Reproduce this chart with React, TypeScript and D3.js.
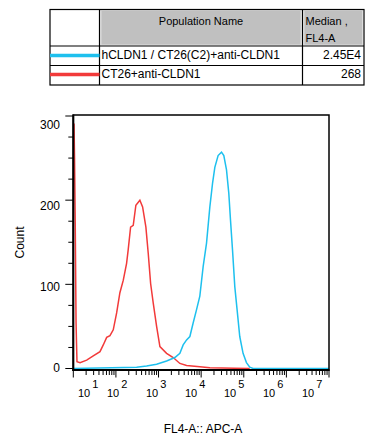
import * as d3 from 'd3';

// FL4-A intensity (linear units) and event counts
const redX = [10.4, 10.7, 11.1, 11.6, 11.9, 12.2, 14.4, 20.6, 29.4, 42.3, 50.5, 60.7, 72.5, 86.6, 104, 124, 149, 178, 194, 221, 255, 294, 365, 423, 505, 573, 652, 750, 901, 1077, 1545, 2208, 3169, 4550, 9330, 16000, 60000, 138000];
const redCount = [291, 250, 173, 55, 30, 8, 7, 10, 15, 20, 28, 37, 39, 46, 66, 90, 105, 125, 141, 168, 170, 194, 200, 192, 168, 137, 101, 78, 50, 26, 18, 13, 6, 3.5, 2, 1, 0.3, 0];

const cyanX = [10, 306, 525, 901, 1545, 2417, 3169, 3785, 4550, 5436, 6490, 7800, 9310, 11140, 13370, 16000, 18500, 20940, 25000, 30060, 34040, 39360, 44570, 48870, 54440, 61660, 69700, 80540, 96290, 115600, 138300, 165200, 1e7];
const cyanCount = [0, 1.5, 3, 5, 9, 13, 18, 28, 34, 38, 54, 70, 86, 121, 149, 192, 220, 239, 253, 257, 253, 236, 208, 176, 141, 97, 70, 38, 18, 7, 1.5, 0, 0];

const populations = ['hCLDN1 / CT26(C2)+anti-CLDN1', 'CT26+anti-CLDN1'];
const medians = ['2.45E4', '268'];
const popColors = ['#1ec0ee', '#f23a3a'];

const decades = [1, 2, 3, 4, 5, 6, 7];
const yMajor = [0, 100, 200, 300];

const FONT = 'Liberation Sans, Arial, sans-serif';

export default function App() {
  const x = d3.scaleLog().domain([10, 1e7]).range([73.3, 329]);
  const y = d3.scaleLinear().domain([0, 300]).range([368.5, 116]);
  // tick labels in the export sit off their ticks
  const xLabel = d3.scaleLinear().domain([1, 2, 7]).range([78, 107, 302]);
  const yLabel = d3.scaleLinear().domain([0, 300]).range([371.5, 129]);

  const line = d3.line<[number, number]>()
    .x(d => x(d[0]))
    .y(d => y(d[1]));

  const redPts = redX.map((v, i) => [v, redCount[i]] as [number, number]);
  const cyanPts = cyanX.map((v, i) => [v, cyanCount[i]] as [number, number]);

  const minor: number[] = [];
  for (let k = 1; k < 7; k++) for (let m = 2; m < 10; m++) minor.push(m * Math.pow(10, k));
  const yMinor = d3.range(0, 301, 25).filter(v => v % 100 !== 0);

  const left = 73.3, right = 329, top = 115, bottom = 370;

  // table layout
  const tx = [50, 99.5, 302.5, 364];
  const ty = [9.5, 46, 65.5, 85];

  return (
    <svg width={366} height={443} style={{ position: 'absolute', left: 0, top: 0, background: '#fff' }} fontFamily={FONT}>
      {/* legend table */}
      <rect x={tx[1] + 1.5} y={ty[0] + 1} width={tx[2] - tx[1] - 3} height={ty[1] - ty[0] - 2} fill="#c0c0c0" stroke="#dcdcdc" />
      <rect x={tx[2] + 1.5} y={ty[0] + 1} width={tx[3] - tx[2] - 3} height={ty[1] - ty[0] - 2} fill="#c0c0c0" stroke="#dcdcdc" />
      <rect x={tx[0]} y={ty[0]} width={tx[3] - tx[0]} height={ty[3] - ty[0]} fill="none" stroke="#000" strokeWidth={1.2} />
      {tx.slice(1, 3).map(v => <line key={v} x1={v} x2={v} y1={ty[0]} y2={ty[3]} stroke="#000" strokeWidth={1.2} />)}
      {ty.slice(1, 3).map(v => <line key={v} x1={tx[0]} x2={tx[3]} y1={v} y2={v} stroke="#000" strokeWidth={1.2} />)}
      <text x={(tx[1] + tx[2]) / 2} y={24.5} fontSize={11} textAnchor="middle">Population Name</text>
      <text x={tx[2] + 3} y={25} fontSize={11}>Median ,</text>
      <text x={tx[2] + 3} y={42.3} fontSize={11}>FL4-A</text>
      {populations.map((p, i) => (
        <g key={p}>
          <line x1={tx[0]} x2={tx[1]} y1={55.5 + i * 19} y2={55.5 + i * 19} stroke={popColors[i]} strokeWidth={3.5} />
          <text x={tx[1] + 2} y={58.5 + i * 19.7} fontSize={12}>{p}</text>
          <text x={tx[3] - 3} y={58.5 + i * 19.7} fontSize={12} textAnchor="end">{medians[i]}</text>
        </g>
      ))}

      {/* histograms */}
      <path d={line(redPts) || ''} fill="none" stroke={popColors[1]} strokeWidth={1.5} />
      <path d={line(cyanPts) || ''} fill="none" stroke={popColors[0]} strokeWidth={1.5} />

      {/* frame */}
      <rect x={left} y={top} width={right - left} height={bottom - top} fill="none" stroke="#000" strokeWidth={1.5} />
      <line x1={left} x2={left} y1={top - 0.5} y2={bottom + 1} stroke="#000" strokeWidth={2} />
      <line x1={left - 1} x2={right + 0.5} y1={bottom} y2={bottom} stroke="#000" strokeWidth={2} />

      {/* y axis */}
      {yMinor.map(v => <line key={v} x1={left - 5} x2={left} y1={y(v)} y2={y(v)} stroke="#000" strokeWidth={1} />)}
      {yMajor.map(v => <line key={v} x1={left - 8} x2={left} y1={y(v)} y2={y(v)} stroke="#000" strokeWidth={1} />)}
      {yMajor.map(v => <text key={v} x={60} y={yLabel(v)} fontSize={12} textAnchor="end">{v}</text>)}
      <text transform="translate(23.5,242.5) rotate(-90)" fontSize={12} textAnchor="middle">Count</text>

      {/* x axis */}
      {minor.map(v => <line key={v} x1={x(v)} x2={x(v)} y1={bottom} y2={bottom + 5} stroke="#000" strokeWidth={1} />)}
      {decades.map(k => <line key={k} x1={x(Math.pow(10, k))} x2={x(Math.pow(10, k))} y1={bottom} y2={bottom + 7.5} stroke="#000" strokeWidth={1} />)}
      {decades.map(k => (
        <text key={k} x={xLabel(k)} y={396.5} fontSize={11}>
          10<tspan dx={2} dy={-8.5}>{k}</tspan>
        </text>
      ))}
      <text x={203} y={432.5} fontSize={12} textAnchor="middle">FL4-A:: APC-A</text>
    </svg>
  );
}
